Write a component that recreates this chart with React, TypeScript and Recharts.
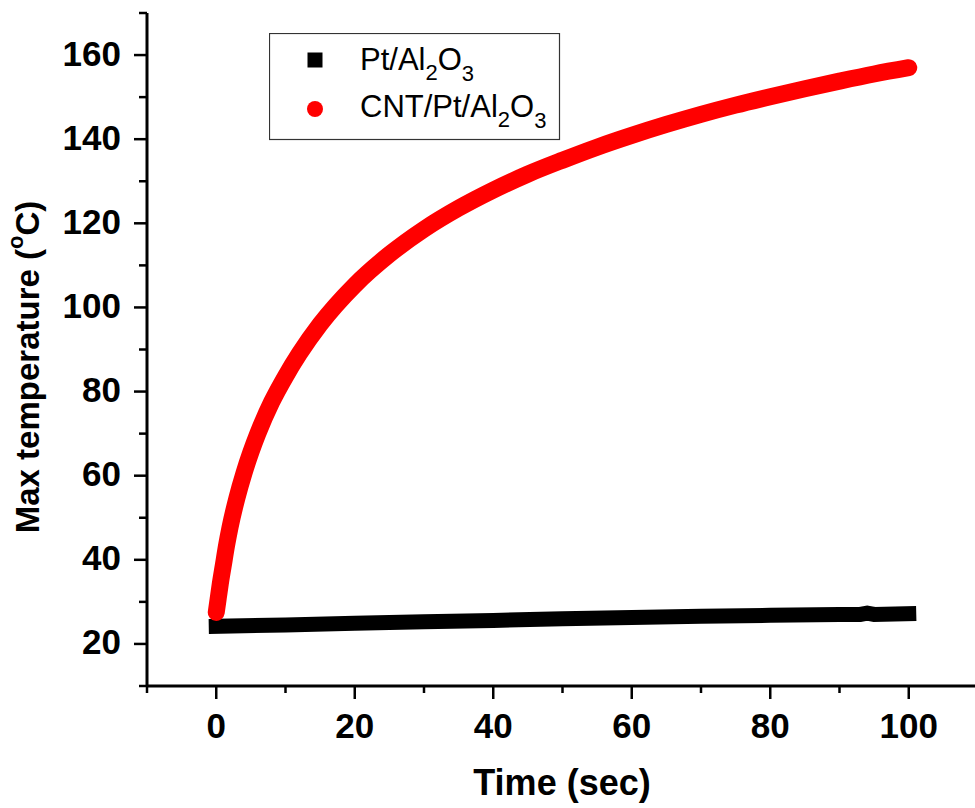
import { LineChart, Line, XAxis, YAxis, Legend } from 'recharts'

// readings taken off the plot (time in s, max temperature in °C)
const cntTime = [0, 0.3, 0.6, 1, 1.5, 2, 3, 4, 5, 6, 8, 10, 12, 15, 20, 25, 30, 35, 40, 45, 50, 55, 60, 65, 70, 75, 80, 85, 90, 95, 100]
const cntTemp = [27.5, 31, 34.5, 38.5, 43.5, 47.8, 54.8, 60.6, 65.6, 70, 77.5, 83.6, 89, 96, 105.3, 112.6, 118.6, 123.6, 127.9, 131.7, 135, 138.1, 140.9, 143.5, 145.9, 148.1, 150.1, 152, 153.8, 155.5, 157]

const ptTime = [0, 10, 20, 30, 40, 50, 60, 70, 80, 90, 93, 94, 95, 100]
const ptTemp = [24.2, 24.5, 24.9, 25.3, 25.6, 26.0, 26.3, 26.6, 26.8, 27.0, 27.0, 27.3, 27.0, 27.2]

const xTicks = [-10, 0, 10, 20, 30, 40, 50, 60, 70, 80, 90, 100, 110]
const xMajor = [0, 20, 40, 60, 80, 100]
const yTicks = [10, 20, 30, 40, 50, 60, 70, 80, 90, 100, 110, 120, 130, 140, 150, 160, 170]
const yMajor = [20, 40, 60, 80, 100, 120, 140, 160]

const cntData = cntTime.map((t, i) => ({ time: t, temp: cntTemp[i] }))
const ptData = ptTime.map((t, i) => ({ time: t, temp: ptTemp[i] }))

const FONT = '"Liberation Sans", Arial, sans-serif'

function XTick({ x, y, payload }: any) {
  const major = xMajor.includes(payload.value)
  return (
    <g>
      <line x1={x} y1={y} x2={x} y2={y + (major ? 13 : 7)} stroke="#000" strokeWidth={2.5} />
      {major && (
        <text x={x} y={y + 39} textAnchor="middle" dominantBaseline="central"
          fontFamily={FONT} fontWeight="bold" fontSize={35} fill="#000">
          {payload.value}
        </text>
      )}
    </g>
  )
}

function YTick({ x, y, payload }: any) {
  const major = yMajor.includes(payload.value)
  return (
    <g>
      <line x1={x - (major ? 13 : 8)} y1={y} x2={x} y2={y} stroke="#000" strokeWidth={2.5} />
      {major && (
        <text x={x - 26} y={y - 2} textAnchor="end" dominantBaseline="central"
          fontFamily={FONT} fontWeight="bold" fontSize={35} fill="#000">
          {payload.value}
        </text>
      )}
    </g>
  )
}

function LegendBox() {
  return (
    <svg width={292} height={108} style={{ display: 'block' }}>
      <rect x={0.5} y={0.5} width={290} height={106} fill="#fff" stroke="#333" strokeWidth={1.2} />
      <rect x={38.5} y={19.5} width={15} height={15} fill="#000" />
      <circle cx={46} cy={76} r={8} fill="#ff0000" />
      <text x={91} y={37} fontFamily={FONT} fontSize={31} fill="#000">
        Pt/Al<tspan dy={10} fontSize={22}>2</tspan><tspan dy={-10}>O</tspan><tspan dy={11} fontSize={22}>3</tspan>
      </text>
      <text x={91} y={84} fontFamily={FONT} fontSize={31} fill="#000">
        CNT/Pt/Al<tspan dy={10} fontSize={22}>2</tspan><tspan dy={-10}>O</tspan><tspan dy={11} fontSize={22}>3</tspan>
      </text>
    </svg>
  )
}

export default function App() {
  return (
    <div style={{ position: 'fixed', left: 0, top: 0, width: 975, height: 808, overflow: 'hidden', background: '#fff' }}>
      <LineChart width={990} height={808} margin={{ top: 13, right: 12, bottom: 0, left: 47 }}>
        <XAxis
          dataKey="time"
          type="number"
          domain={[-10, 110]}
          ticks={xTicks}
          interval={0}
          allowDataOverflow
          height={122}
          tickSize={0}
          tickMargin={0}
          tickLine={false}
          axisLine={{ stroke: '#000', strokeWidth: 3 }}
          tick={(p: any) => <XTick {...p} />}
          label={{
            content: () => (
              <text x={562} y={782} textAnchor="middle" dominantBaseline="central"
                fontFamily={FONT} fontWeight="bold" fontSize={36} fill="#000">
                Time (sec)
              </text>
            ),
          }}
        />
        <XAxis
          xAxisId="top"
          orientation="top"
          type="number"
          domain={[-10, 110]}
          height={0}
          tick={false}
          tickLine={false}
          axisLine={{ stroke: '#000', strokeWidth: 3 }}
        />
        <YAxis
          type="number"
          domain={[10, 170]}
          ticks={yTicks}
          interval={0}
          allowDataOverflow
          width={100}
          tickSize={0}
          tickMargin={0}
          tickLine={false}
          axisLine={{ stroke: '#000', strokeWidth: 3 }}
          tick={(p: any) => <YTick {...p} />}
          label={{
            content: () => (
              <text x={27} y={367} transform="rotate(-90, 27, 367)" textAnchor="middle" dominantBaseline="central"
                fontFamily={FONT} fontWeight="bold" fontSize={33} fill="#000">
                Max temperature (<tspan dy={-12} fontSize={22}>o</tspan><tspan dy={12}>C)</tspan>
              </text>
            ),
          }}
        />
        <Legend
          layout="vertical"
          align="center"
          verticalAlign="middle"
          wrapperStyle={{ left: 269, top: 33, width: 292, height: 108 }}
          content={() => <LegendBox />}
        />
        <Line
          data={ptData}
          dataKey="temp"
          name="Pt/Al2O3"
          type="linear"
          stroke="#000"
          strokeWidth={15}
          strokeLinecap="square"
          dot={false}
          activeDot={false}
          isAnimationActive={false}
        />
        <Line
          data={cntData}
          dataKey="temp"
          name="CNT/Pt/Al2O3"
          type="monotone"
          stroke="#ff0000"
          strokeWidth={17}
          strokeLinecap="round"
          strokeLinejoin="round"
          dot={false}
          activeDot={false}
          isAnimationActive={false}
        />
      </LineChart>
    </div>
  )
}
